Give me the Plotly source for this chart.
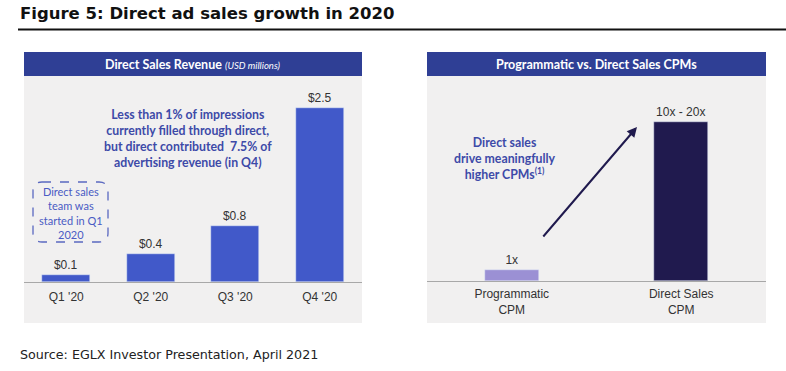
import plotly.graph_objects as go

W, H = 786, 371

# ---- data ----
quarters = ["Q1 '20", "Q2 '20", "Q3 '20", "Q4 '20"]
revenue = [0.1, 0.4, 0.8, 2.5]
revenue_labels = ["$0.1", "$0.4", "$0.8", "$2.5"]

cpm_cats = ["Programmatic<br>CPM", "Direct Sales<br>CPM"]
cpm_values = [1, 15]
cpm_labels = ["1x", "10x - 20x"]

note_lines = ["Less than 1% of impressions", "currently filled through direct,",
              "but direct contributed  7.5% of", "advertising revenue (in Q4)"]
box_lines = ["Direct sales", "team was", "started in Q1", "2020"]
cpm_note_lines = ["Direct sales", "drive meaningfully", "higher CPMs<sup>(1)</sup>"]


def px(x):
    return x / W


def py(y):
    return (H - y) / H


BLUE = "#4159c9"
HEADER = "#2f3f95"
PANEL = "#f1f0f0"
TXTBLUE = "#3d4aa8"

fig = go.Figure()

fig.add_trace(go.Bar(
    x=quarters, y=revenue, text=revenue_labels, textposition="outside",
    marker_color=BLUE, width=0.57, cliponaxis=False,
    textfont=dict(family="Liberation Sans", size=12, color="#333333"),
    xaxis="x", yaxis="y", showlegend=False, hoverinfo="skip",
))
fig.add_trace(go.Bar(
    x=cpm_cats, y=cpm_values, text=cpm_labels, textposition="outside",
    marker_color=["#9b90d4", "#201a4e"], width=0.32, cliponaxis=False,
    textfont=dict(family="Liberation Sans", size=12, color="#333333"),
    xaxis="x2", yaxis="y2", showlegend=False, hoverinfo="skip",
))

axis_common = dict(showgrid=False, zeroline=False, showline=True,
                   linecolor="#a8a8a8", linewidth=1, ticks="",
                   tickfont=dict(family="Liberation Sans", size=12, color="#333333"),
                   fixedrange=True)

shapes = []
for x0, x1 in [(24, 362), (427, 766)]:
    shapes.append(dict(type="rect", xref="paper", yref="paper", layer="below",
                       x0=px(x0), x1=px(x1), y0=py(323), y1=py(76),
                       fillcolor=PANEL, line_width=0))
    shapes.append(dict(type="rect", xref="paper", yref="paper", layer="below",
                       x0=px(x0), x1=px(x1), y0=py(76), y1=py(52),
                       fillcolor=HEADER, line_width=0))
shapes.append(dict(type="line", xref="paper", yref="paper",
                   x0=px(18), x1=px(786), y0=py(29.5), y1=py(29.5),
                   line=dict(color="#111111", width=2)))

bx0, bx1, by0, by1, r = 33, 108, 182, 242, 9
path = (f"M {px(bx0 + r)},{py(by0)} L {px(bx1 - r)},{py(by0)} "
        f"Q {px(bx1)},{py(by0)} {px(bx1)},{py(by0 + r)} "
        f"L {px(bx1)},{py(by1 - r)} Q {px(bx1)},{py(by1)} {px(bx1 - r)},{py(by1)} "
        f"L {px(bx0 + r)},{py(by1)} Q {px(bx0)},{py(by1)} {px(bx0)},{py(by1 - r)} "
        f"L {px(bx0)},{py(by0 + r)} Q {px(bx0)},{py(by0)} {px(bx0 + r)},{py(by0)} Z")
shapes.append(dict(type="path", xref="paper", yref="paper", path=path,
                   line=dict(color="#5a68c0", width=1.3, dash="dash")))


def txt(text, x, y, size, color, family="Lato", anchor="center"):
    return dict(text=text, x=px(x), y=py(y), xref="paper", yref="paper",
                xanchor=anchor, yanchor="middle", showarrow=False, align="center",
                font=dict(family=family, size=size, color=color))


annotations = [
    txt("<b>Figure 5: Direct ad sales growth in 2020</b>", 18, 14, 16.5, "#111111",
        "DejaVu Sans", "left"),
    txt("Source: EGLX Investor Presentation, April 2021", 18, 354, 12.7, "#222222",
        "DejaVu Sans", "left"),
    txt("<b>Direct Sales Revenue</b> <i><span style='font-size:9.5px'>(USD millions)</span></i>",
        193, 64, 12.5, "white"),
    txt("<b>Programmatic vs. Direct Sales CPMs</b>", 596.5, 64, 12.5, "white"),
    txt("<b>" + "<br>".join(note_lines) + "</b>", 188, 138, 12.3, TXTBLUE),
    txt("<br>".join(box_lines), 70.5, 212.5, 11, "#4a5bc4"),
    txt("<b>" + "<br>".join(cpm_note_lines) + "</b>", 505, 158, 12.3, TXTBLUE),
    dict(text="", x=px(637), y=py(127), xref="paper", yref="paper",
         ax=542 - 637, ay=238 - 127, showarrow=True, arrowhead=2,
         arrowsize=1, arrowwidth=2, arrowcolor="#201a4e"),
]

fig.update_layout(
    width=W, height=H, margin=dict(l=0, r=0, t=0, b=0),
    paper_bgcolor="white", plot_bgcolor="rgba(0,0,0,0)",
    xaxis=dict(domain=[px(24), px(362)], range=[-0.5, 3.5], anchor="y",
               ticklabelstandoff=4, **axis_common),
    yaxis=dict(domain=[py(282), py(76)], range=[0, 2.96], visible=False, fixedrange=True),
    xaxis2=dict(domain=[px(427), px(766)], range=[-0.5, 1.5], anchor="y2",
                ticklabelstandoff=2, **axis_common),
    yaxis2=dict(domain=[py(281), py(76)], range=[0, 19.34], visible=False, fixedrange=True),
    shapes=shapes, annotations=annotations, bargap=0,
)

fig.write_html("out.html", config={"displayModeBar": False},
               post_script="document.body.style.margin='0';")
